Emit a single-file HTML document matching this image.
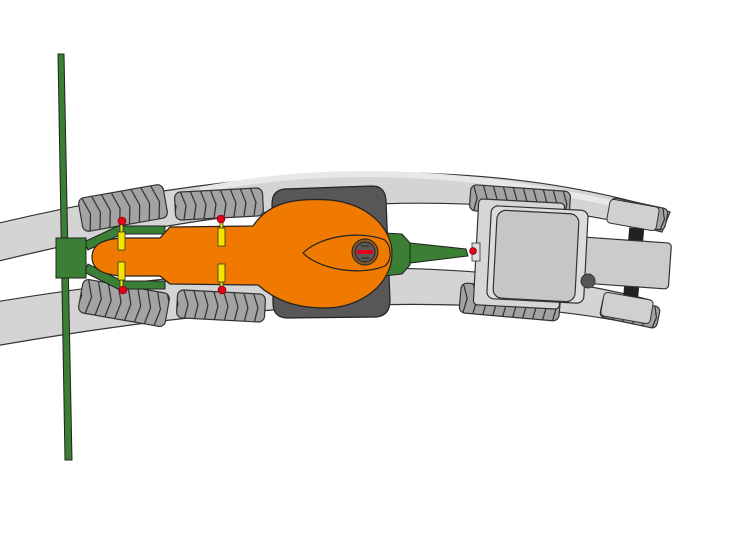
<!DOCTYPE html>
<html><head><meta charset="utf-8"><style>html,body{margin:0;padding:0;background:#fff}svg{display:block}</style></head>
<body>
<svg width="737" height="553" viewBox="0 0 737 553" xmlns="http://www.w3.org/2000/svg">
<defs>
<pattern id="tr" patternUnits="userSpaceOnUse" x="0" y="-20" width="10" height="40">
<rect width="10" height="40" fill="#a3a3a3"/>
<polyline points="0,0 7,20 3,40" fill="none" stroke="#222" stroke-width="1.1"/>
</pattern>
</defs>
<!-- bands -->
<path d="M-5,224 Q400,128 670,212 L662,232 Q400,162 -5,262 Z" fill="#d4d4d4" stroke="#333" stroke-width="1.2"/>
<path d="M-5,302 Q400,235 650,300 L640,325 Q400,275 -5,346 Z" fill="#d4d4d4" stroke="#333" stroke-width="1.2"/>
<path d="M200,190 Q400,150 640,210" fill="none" stroke="#e8e8e8" stroke-width="6"/>
<!-- tracks -->
<g stroke="#333" stroke-width="1.2">
<rect x="-43" y="-17" width="86" height="34" rx="6" fill="url(#tr)" transform="translate(123,208) rotate(-10)"/>
<rect x="-44" y="-14" width="88" height="28" rx="6" fill="url(#tr)" transform="translate(219,204) rotate(-3)"/>
<rect x="-44" y="-17" width="88" height="34" rx="6" fill="url(#tr)" transform="translate(124,303) rotate(10)"/>
<rect x="-44" y="-14" width="88" height="28" rx="6" fill="url(#tr)" transform="translate(221,306) rotate(3)"/>
<rect x="-50" y="-13" width="100" height="26" rx="6" fill="url(#tr)" transform="translate(520,201) rotate(4)"/>
<rect x="-50" y="-15" width="100" height="30" rx="6" fill="url(#tr)" transform="translate(510,302) rotate(5)"/>
<rect x="-29" y="-11" width="58" height="22" rx="5" fill="url(#tr)" transform="translate(638,214) rotate(12)"/>
<rect x="-29" y="-11" width="58" height="22" rx="5" fill="url(#tr)" transform="translate(630,312) rotate(12)"/>
</g>
<!-- tractor -->
<rect x="626" y="228" width="15" height="74" fill="#222" transform="rotate(5 633 265)"/>
<rect x="608" y="203" width="50" height="24" rx="4" fill="#d0d0d0" stroke="#333" transform="rotate(10 633 215)"/>
<rect x="602" y="296" width="50" height="24" rx="4" fill="#d0d0d0" stroke="#333" transform="rotate(10 627 308)"/>
<rect x="580" y="240" width="90" height="46" rx="4" fill="#cbcbcb" stroke="#333" stroke-width="1.2" transform="rotate(4 625 263)"/>
<rect x="476" y="201" width="86" height="106" rx="4" fill="#d6d6d6" stroke="#333" stroke-width="1.2" transform="rotate(3 519 254)"/>
<rect x="489" y="208" width="97" height="93" rx="7" fill="#dcdcdc" stroke="#333" stroke-width="1.2" transform="rotate(3 537 254)"/>
<rect x="495" y="212" width="82" height="88" rx="9" fill="#c6c6c6" stroke="#333" stroke-width="1.2" transform="rotate(3 536 256)"/>
<rect x="472" y="243" width="8" height="18" fill="#ddd" stroke="#333" stroke-width="0.8"/>
<circle cx="588" cy="281" r="7" fill="#555" stroke="#333"/>
<!-- green bar -->
<polygon points="58,54 64,54 72,460 65,460" fill="#3a7f33" stroke="#222" stroke-width="1"/>
<!-- green arms -->
<polygon points="84,242 118,226 165,226 165,234 122,234 88,250" fill="#3a7f33" stroke="#222"/>
<polygon points="84,272 118,289 165,289 165,281 122,281 88,264" fill="#3a7f33" stroke="#222"/>
<rect x="56" y="238" width="30" height="40" fill="#3a7f33" stroke="#222"/>
<!-- dark body -->
<path d="M285,189 L372,186 Q385,186 386,200 L390,300 Q390,316 376,317 L288,318 Q273,318 273,303 L272,204 Q272,190 285,189 Z" fill="#575757" stroke="#222" stroke-width="1.2"/>
<!-- green connector and drawbar -->
<polygon points="384,233 402,234 410,243 410,265 402,274 384,276" fill="#3a7f33" stroke="#222"/>
<polygon points="410,243 466,249 468,256 410,263" fill="#3a7f33" stroke="#222"/>
<!-- orange body -->
<path d="M92,257 C92,244 104,239 123,238 L160,238 L170,227 L253,226 C270,200 300,198 330,200 C370,204 392,230 392,253 C392,285 360,308 325,308 C295,308 275,300 258,285 L170,284 L160,276 L123,276 C104,275 92,270 92,257 Z" fill="#f07a00" stroke="#222" stroke-width="1.2"/>
<path d="M303,253 C320,236 360,230 385,240 C392,248 392,260 385,266 C360,276 320,270 303,253 Z" fill="none" stroke="#222" stroke-width="1.2"/>
<circle cx="365" cy="252" r="13" fill="#8a5a2a" stroke="#222"/>
<circle cx="365" cy="252" r="10" fill="#5a5a5a" stroke="#222"/>
<rect x="357" y="250" width="16" height="4" fill="#e2001a"/>
<line x1="361" y1="246" x2="369" y2="246" stroke="#222"/>
<line x1="361" y1="258" x2="369" y2="258" stroke="#222"/>
<!-- cylinders -->
<g fill="#f5e400" stroke="#333" stroke-width="0.8">
<rect x="120" y="223" width="3" height="10"/><rect x="118" y="232" width="7" height="18"/>
<rect x="120" y="279" width="3" height="10"/><rect x="118" y="262" width="7" height="18"/>
<rect x="220" y="221" width="3" height="8"/><rect x="218" y="228" width="7" height="18"/>
<rect x="220" y="281" width="3" height="8"/><rect x="218" y="264" width="7" height="18"/>
</g>
<g fill="#e2001a" stroke="#600" stroke-width="0.6">
<circle cx="122" cy="221" r="4"/><circle cx="123" cy="290" r="4"/>
<circle cx="221" cy="219" r="4"/><circle cx="222" cy="290" r="4"/>
<circle cx="473" cy="251" r="3.5"/>
</g>
</svg>
</body></html>
